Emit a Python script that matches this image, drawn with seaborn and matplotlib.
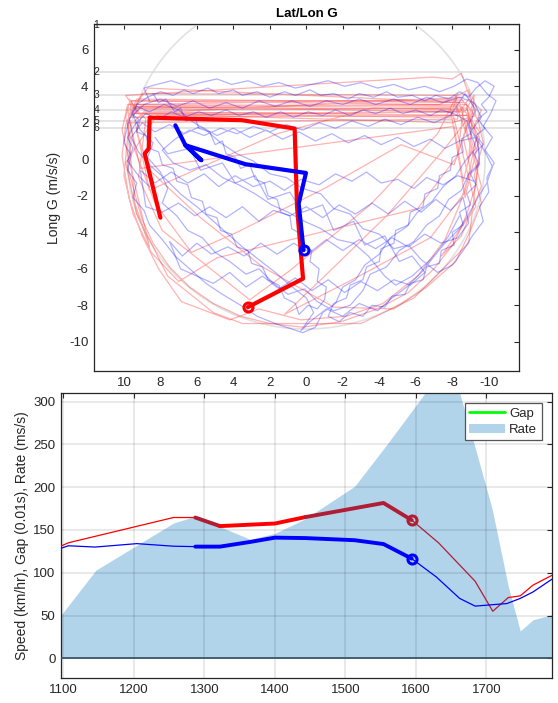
import matplotlib
matplotlib.use("Agg")
import matplotlib.pyplot as plt
import matplotlib.transforms as mtransforms
from matplotlib.patches import Ellipse, Patch
from matplotlib.lines import Line2D
import seaborn as sns

# ---------------- G-G diagram data (lateral G, longitudinal G) ----------------
ref_long = [7.35, 4.77, 3.52, 2.70, 2.12, 1.73]
ref_labels = ["1", "2", "3", "4", "5", "6"]

pink_lat = [9.7, 9.9, 9.6, 9.8, 9.4, 9.0, 8.4, 7.5, 6.4, 5.1, 3.6, 2.0, 0.2, -1.9, -3.9, -5.6, -7.0, -8.1, -8.8, -9.3,
            -9.5, -9.2, -9.6, -8.9, -8.4, 9.5, 9.9, -6.9, -8.0, -8.5, -9.1, -8.6, -9.0, -8.4, -7.6, -6.1, -4.2, -2.2, 0.3,
            2.6, 4.2, 6.85, 8.1, 9.0, 9.7, 10.1, 9.9, 9.3, -8.7, -9.4, -9.7, -9.2, -9.6, -9.0, -8.2, -6.6, -4.8, -1.5,
            2.4, 5.8, 8.6, 9.3, 9.0, -7.9, -8.3, -7.2, -3.5, 0.9, 3.1, 7.9, 9.2, 8.8, 9.6, -8.5, -9.1, -8.1, -5.2, -1.0,
            3.8, 6.3, 8.3, 9.4, 9.8, -8.8, -9.3, -8.7, -6.8, -2.9, 1.2, -0.8, -4.4, -7.6, -9.0, 8.9, 9.4, 8.6, 5.9, 1.6,
            -3.6, -8.6, -8.3, -6.1, -1.2, 4.9, 7.0, 8.5, 9.5, 10.0, 9.6, -7.3, -8.9, -9.3, -8.0, 9.2, 9.7, 9.5, -8.6]
pink_long = [3.1, 2.3, 1.0, -0.4, -1.9, -3.3, -4.6, -5.9, -7.0, -7.9, -8.6, -9.0, -9.2, -8.9, -8.2, -7.3, -6.0, -4.6, -3.0, -1.4,
             0.3, 1.8, 2.7, 3.3, 2.6, 2.9, 3.5, 4.5, 4.4, 4.7, 3.0, 1.2, -0.6, -2.5, -4.4, -6.4, -7.9, -8.6, -8.8,
             -8.2, -8.8, -7.8, -6.0, -4.2, -2.2, 0.2, 1.9, 3.3, 3.1, 2.2, 0.9, -0.9, -2.4, -3.9, -5.6, -7.0, -8.2, -8.1,
             -5.9, -3.2, -0.6, 1.5, 2.5, 2.3, 3.6, 1.4, -2.5, -6.1, -7.7, -3.9, -1.0, 2.2, 3.0, 3.3, 2.6, -0.3, 0.8, -1.6,
             -4.0, -5.1, -2.4, 0.5, 2.8, 2.8, 1.1, -1.8, -4.3, -6.4, -8.5, -6.6, -3.1, 0.6, 2.4, 2.6, 2.1, -1.7, -0.5, 1.4,
             2.8, 2.7, 0.2, -2.7, -3.9, -5.4, -6.7, -5.1, -3.0, -0.9, 3.2, 3.0, 3.8, 2.4, 2.0, 2.5, 3.3, 2.5, 3.4]

pink2_lat = [-8.6, 9.6, 9.3, -8.7, -9.2, -8.9, -9.5, -8.5, 9.8, 10.1, 8.6, 9.4, 9.8, -8.3, -8.2, 9.0, 9.7, 9.1, -8.1,
             -8.6, -9.1, -8.8, 9.5, 8.7, -4.3, -8.4, -9.6, -8.5, -7.4, -9.3, -8.0, 8.2, 9.9, 9.3, 7.6, 5.1, 3.5, -3.0,
             -5.9, -8.9, -9.4, -8.2, 9.1, 9.6, -8.8, -9.5, -8.7, -7.9, 8.9]
pink2_long = [3.2, 3.2, 2.5, 2.6, 3.5, 0.0, 1.5, 2.9, 3.0, 1.6, -4.8, -2.4, 2.0, 2.2, 3.5, 3.6, 2.2, -0.5, 1.8,
              -1.2, 0.8, 3.0, 2.8, 3.9, 3.3, 3.1, -1.5, -4.2, -5.3, -2.6, 2.6, 2.4, -0.2, -3.0, -6.4, -8.4, -9.0, -9.0,
              -7.6, -4.6, -0.3, 3.0, 2.9, 2.3, 2.4, 1.2, -2.1, 2.8, 2.7]

blue_lat = [8.6, 8.9, 8.2, 7.4, 6.5, 5.8, 4.9, 4.1, 3.2, 2.4, 1.5, 0.6, -0.3, -1.2, -2.1, -3.0, -3.9, -4.8, -5.6, -6.5,
            -7.3, -8.1, -8.8, -9.4, -9.9, -10.4, -10.1, -9.7, -10.2, -9.8, -10.3, -9.9, -10.0, -9.5, -9.7, -9.1, -8.6, -8.0,
            -7.2, -6.3, -5.6, -4.8, -4.0, -3.1, -2.4, -1.5, -0.8, 0.2, 1.1, 2.0, 2.9, 3.8, 4.7, 5.5, 6.3, 7.0, 7.8, 8.6, 9.3,
            9.7, 9.9, 10.0, 9.6, 9.8, 9.3, 9.5, 8.9, 8.6, 7.9, 7.2, 6.4, 5.5, 4.6, 3.6, 2.7, 1.7, 0.8, 0.2, -0.5,
            -0.9, -1.6, -2.0, -2.7, -3.2, -4.0, -4.6, -5.5, -6.1, -6.9, -7.5, -8.2, -8.7, -9.3, -9.0, -9.6, -9.2, -8.4,
            -7.5, -6.6, -5.7, -4.8, -3.8, -2.9, -2.0, -1.1, -0.2, 0.8, 1.7, 2.6, 3.5, 4.4, 5.3, 6.2, 7.1, 8.0, 8.9, 9.5,
            9.1, 8.4, 8.7, 8.0, 7.6, 7.9, 7.1, 6.5, 5.7, 5.0, 4.2, 3.3, 2.6, 1.8, 1.0, 0.1, -0.6, -1.5, -2.4,
            -3.1, -3.5, -4.4, -5.1, -5.9, -6.6, -7.3, -7.8, -8.5, -8.9, -9.5, -9.4, -8.9, -9.3, -8.7,
            -7.9, -7.0, -6.1, -5.2, -4.3, -3.4, -2.5, -1.6, -0.7, 0.2, 1.1, 2.0, 2.9, 3.8, 4.7, 5.6, 6.4, 7.2, 7.9,
            7.3, 6.4, 5.5, 4.6, 3.7, 2.8, 1.9, 1.0, 0.1, -0.8, -1.7, -2.6, -3.4, -4.3, -4.9, -5.8, -6.8, -7.6, -8.3,
            -8.8, -9.4, -9.9, -10.2, -9.8, -9.3, -8.4, -7.6, -6.8, -5.9, -5.0, -4.1, -3.2, -2.3, -1.4, -0.5, 0.4,
            1.3, 2.2, 3.1, 4.0, 4.9, 5.8, 6.7, 7.5, 8.3, 9.0, 9.6, 9.2, 8.5, 7.7, 6.9, 6.0, 5.2, 4.3, 3.5, 2.6, 1.7,
            0.9, 0.0, -0.4, 0.3, -0.2, -1.1, -2.0, -2.9, -3.9, -4.7, -5.5, -6.4, -7.1, -7.8, -8.4]
blue_long = [3.2, 3.9, 4.1, 4.3, 4.0, 4.2, 4.4, 4.1, 4.3, 4.0, 4.2, 3.9, 4.1, 4.3, 4.0, 4.2, 3.9, 4.1, 3.8, 4.0,
             3.7, 4.0, 4.4, 4.2, 3.6, 3.2, 2.5, 1.8, 1.2, 0.5, -0.2, -1.0, -1.8, -2.6, -3.4, -4.2, -5.0, -5.8,
             -6.2, -5.5, -4.7, -4.9, -4.1, -3.8, -3.0, -2.7, -1.9, -1.6, -1.0, -0.8, -0.1, 0.3, 0.9, 1.6, 2.1, 2.7, 3.0, 2.6, 2.9,
             2.2, 1.4, 0.9, 0.2, -0.6, -1.3, -2.1, -2.8, -3.6, -4.4, -5.3, -6.0, -6.8, -7.4, -8.0, -8.6, -9.0, -9.3, -9.5, -9.2,
             -8.4, -7.9, -7.0, -6.6, -5.8, -5.2, -4.3, -3.7, -2.9, -2.3, -1.5, -0.9, -0.1, 0.6, 1.5, 2.3, 3.1, 3.4,
             3.1, 3.4, 3.0, 3.3, 3.0, 3.3, 3.0, 3.2, 2.9, 3.2, 2.9, 3.2, 2.8, 3.1, 2.8, 3.2, 2.9, 3.3, 3.0, 2.4,
             1.6, 0.9, 0.1, -0.7, -1.6, -2.4, -3.1, -3.9, -4.3, -5.1, -5.6, -6.3, -6.0, -6.8, -7.4, -7.1, -7.8, -8.3, -8.0,
             -7.2, -6.3, -5.9, -5.0, -4.5, -3.6, -3.1, -2.2, -1.7, -0.8, -0.2, 0.9, 1.9, 2.7, 3.6,
             2.4, 2.0, 2.3, 1.9, 2.2, 1.8, 2.1, 1.7, 2.0, 1.6, 1.9, 1.5, 1.8, 1.4, 1.7, 1.3, 1.6, 1.1, 0.5,
             -0.2, -0.6, -0.3, -1.0, -1.4, -1.9, -2.5, -2.9, -3.4, -3.8, -4.4, -4.6, -5.3, -6.4, -6.9, -6.4, -5.5, -4.6, -3.9,
             -3.2, -2.1, -1.3, -0.4, 0.4, 1.2, 1.0, 0.6, 1.1, 0.7, 1.2, 0.8, 1.3, 0.9, 1.4, 1.0, 1.5,
             1.1, 1.6, 1.2, 1.7, 1.3, 1.8, 1.4, 1.9, 1.5, 2.0, 1.2, 0.4, -0.4, -1.1, -1.9, -2.6, -3.3, -4.1, -4.8, -5.5, -6.2,
             -6.9, -7.6, -8.4, -9.4, -8.9, -8.2, -8.6, -7.9, -8.3, -7.6, -7.0, -6.1, -5.2, -4.2, -3.1]

blue2_lat = [8.4, 8.1, 7.7, 7.2, 6.9, 6.6, 6.1, 5.9, 5.3, 5.0, 4.6, 4.4, 3.9, 3.6, 3.1, 2.8, 2.3, 2.1, 1.6, 1.4, 0.9,
             0.8, 0.3, 0.2, -0.3, -0.2, -0.7, -0.6, -1.1, -1.0, -0.6, -0.1, 0.4, 0.6,
             1.2, 1.5, 2.1, 2.4, 3.0, 3.2, 3.8, 4.1, 4.7, 4.9, 5.5, 5.7, 6.3, 6.5, 7.1, 7.3, 7.9, 8.1, 8.6, 8.8, 9.3, 9.2,
             9.6, 9.3,
             8.7, 8.0, 7.3, 6.7, 6.2, 5.4, 4.8, 4.0, 3.5, 2.7, 2.0, 1.2, 0.6, -0.2, -0.8, -1.5, -2.3, -2.9, -3.7, -4.4,
             -5.0, -5.8, -6.5, -7.1, -7.8, -8.4, -8.9, -9.3, -9.8, -10.3, -10.0,
             -9.6, -9.9, -9.4, -9.8, -9.3, -9.7, -9.2, -9.5, -9.0, -9.3, -8.8, -9.0, -8.4, -8.6, -8.0, -8.1, -7.4, -7.3,
             -6.6, -6.4, -5.7, -5.4, -4.7, -4.3, -3.6, -3.1, -2.4, -1.8, -1.2,
             -1.5, -2.2, -2.4, -3.1, -3.3, -4.0, -4.1, -4.8, -4.9, -5.6, -5.7, -6.4, -6.5, -7.2, -7.3, -7.9, -8.0, -8.6,
             -8.5, -9.0, -8.8, -8.1,
             -7.4, -6.8, -6.0, -5.3, -4.6, -3.8, -3.1, -2.4, -1.6, -0.9, -0.1, 0.7, 1.4, 2.2, 2.9, 3.7, 4.4, 5.2, 5.9,
             6.7, 7.4, 8.1, 8.8, 9.4, 9.8, 9.5, 9.8, 9.2, 8.6]
blue2_long = [3.6, 3.1, 3.3, 2.6, 2.8, 2.1, 2.3, 1.7, 1.5, 0.8, 1.0, 0.3, 0.1, -0.5, -0.3, -1.1, -1.3, -2.0, -2.2, -2.9,
              -3.1, -3.8, -4.1, -4.7, -5.0, -5.6, -6.0, -6.7, -7.0, -7.7, -8.2, -8.0, -8.5, -7.9,
              -7.6, -6.9, -6.6, -5.9, -5.7, -5.0, -4.8, -4.1, -3.9, -3.2, -3.0, -2.3, -2.1, -1.4, -1.2, -0.5, -0.3, 0.4,
              0.6, 1.3, 1.5, 2.2, 2.5, 3.0,
              3.4, 3.7, 3.5, 3.8, 3.6, 3.9, 3.6, 3.8, 3.5, 3.7, 3.4, 3.7, 3.5, 3.8, 3.5, 3.6, 3.3, 3.6, 3.4, 3.7,
              3.4, 3.5, 3.2, 3.5, 3.3, 3.7, 3.4, 3.9, 4.3, 4.0, 3.4,
              3.0, 2.6, 2.2, 1.7, 1.3, 0.8, 0.3, -0.3, -0.8, -1.4, -1.9, -2.5, -2.9, -3.6, -4.0, -4.7, -5.0, -5.7,
              -5.9, -6.6, -6.8, -7.4, -7.5, -8.1, -8.0, -8.6, -8.4, -8.9, -8.6,
              -7.9, -7.6, -6.9, -6.6, -5.9, -5.6, -4.9, -4.6, -3.9, -3.6, -2.9, -2.6, -1.9, -1.6, -0.9, -0.6, 0.1, 0.4,
              1.1, 1.4, 2.1, 2.5,
              2.7, 2.4, 2.7, 2.5, 2.8, 2.5, 2.7, 2.4, 2.7, 2.4, 2.6, 2.3, 2.6, 2.3, 2.6, 2.4, 2.7, 2.4, 2.6,
              2.3, 2.6, 2.2, 2.5, 1.9, 1.2, 0.6, -0.1, -0.9, -1.5]

blue3_lat = [-9.2, -8.3, -7.5, -6.6, -5.9, -5.0, -4.1, -3.3, -2.5, -1.6, -0.7, 0.3, 1.2, 2.0, 2.9, 3.9, 4.8, 5.6, 6.5,
             7.4, 8.3, 9.1, 8.8,
             7.9, 7.0, 6.1, 5.3, 4.4, 3.5, 2.6, 1.8, 0.9, 0.0, -0.9, -1.8, -2.7, -3.6, -4.5, -5.4, -6.3, -7.1, -7.9, -8.6,
             -8.9, -8.3,
             -7.4, -6.5, -5.6, -4.7, -3.8, -2.9, -2.0, -1.1, -0.2, 0.7, 1.6, 2.5, 3.4, 4.3, 5.2, 6.0, 6.8, 7.5,
             6.9, 6.0,
             5.1, 4.2, 3.3, 2.4, 1.5, 0.6, -0.3, -1.2, -2.1, -3.0, -3.9, -4.8, -5.7, -6.5,
             -5.8, -5.1, -4.3, -3.2, -2.6, -1.5, -0.9, 0.2, 0.9, 2.1, 2.8, 3.9, 4.6, 5.8, 6.4, 7.6, 8.3]
blue3_long = [-1.2, -0.9, -1.4, -1.0, -1.6, -1.1, -1.3, -0.7, -1.2, -0.8, -1.4, -1.1, -1.7, -1.2, -1.5, -0.9, -1.5,
              -0.8, -1.3, -0.7, -1.3, -0.6, -2.6,
              -2.9, -2.4, -3.1, -2.6, -3.2, -2.6, -3.4, -2.8, -3.1, -2.6, -3.2, -2.5, -3.0, -2.4, -3.0, -2.3, -2.9, -2.2,
              -2.8, -2.1, -3.5, -4.3,
              -4.6, -4.1, -4.8, -4.3, -4.9, -4.4, -5.0, -4.4, -5.1, -4.6, -5.2, -4.6, -5.3, -4.8, -5.2, -4.6, -5.3, -4.5,
              -6.0, -6.4,
              -6.8, -6.2, -7.0, -6.4, -7.1, -6.5, -7.2, -6.6, -7.3, -6.7, -7.2, -6.6, -6.9, -6.2,
              -5.3, -5.6, -4.2, -4.7, -3.4, -3.9, -2.5, -2.9, -1.8, -2.2, -0.9, -1.3, -0.2, -0.6, 0.6, 0.3, 1.2]

# current-window G paths (last point is the current sample)
red_now_lat = [8.0, 8.86, 8.64, 8.59, 3.53, 0.64, 0.51, 0.18, 3.2]
red_now_long = [-3.2, 0.31, 0.59, 2.28, 2.14, 1.68, -2.6, -6.54, -8.1]
blue_now_lat = [7.18, 6.63, 5.76, 6.63, 3.34, 0.02, 0.42, 0.15]
blue_now_long = [1.86, 0.77, -0.05, 0.77, -0.27, -0.75, -2.43, -4.98]

# ---------------- Distance-based traces ----------------
rate_dist = [1096, 1146, 1256, 1287, 1365, 1400, 1443, 1513, 1558, 1613, 1645, 1662, 1683, 1708, 1731, 1748, 1766, 1793]
rate_val = [50, 103, 158, 166, 139, 146, 163, 201, 249, 310, 345, 310, 249, 175, 84, 32, 45, 51]

red_dist = [1096, 1107, 1256, 1287, 1322, 1400, 1443, 1554, 1594, 1632, 1684, 1709, 1731, 1748, 1766, 1793]
red_speed = [131, 135, 164.5, 164.5, 154.5, 157.5, 165, 181.5, 161.5, 135, 90, 55, 71, 73, 85.5, 97]
blue_dist = [1096, 1107, 1145, 1204, 1256, 1287, 1322, 1365, 1400, 1443, 1513, 1554, 1594, 1629, 1662, 1684, 1729,
             1748, 1766, 1793]
blue_speed = [128.5, 131.5, 130, 134, 131, 130.5, 130.5, 136, 141, 140.5, 138, 133.5, 116.5, 95, 70, 61, 64, 70,
              77.5, 92.5]

RED = "#ff0000"
CRIMSON = "#b01e36"
BLUE = "#0000ff"
AXC = "#262626"

sns.set_theme(style="white")
plt.rcParams["font.family"] = ["Liberation Sans", "DejaVu Sans"]
plt.rcParams["axes.unicode_minus"] = False

fig = plt.figure(figsize=(5.58, 7.03), dpi=100)
W, H = 558.0, 703.0
ax1 = fig.add_axes([94 / W, 1 - 371 / H, 425 / W, 347 / H])
ax2 = fig.add_axes([61 / W, 1 - 678 / H, 491 / W, 285 / H])


def style_axes(ax):
    for sp in ax.spines.values():
        sp.set_color(AXC)
        sp.set_linewidth(0.9)
        sp.set_visible(True)
    ax.tick_params(direction="in", top=True, right=True, length=3.5, width=0.8,
                   colors=AXC, labelsize=9.5, pad=4)


def line(ax, xs, ys, color, lw, alpha=1.0, z=3):
    sns.lineplot(x=xs, y=ys, sort=False, estimator=None, color=color, lw=lw,
                 alpha=alpha, ax=ax, zorder=z)


# ---------------- Lat/Lon G ----------------
ax1.add_patch(Ellipse((0, 0), 19.6, 18.6, fill=False, ec="#e2e2e2", lw=1.2, zorder=1))
trans = mtransforms.blended_transform_factory(ax1.transAxes, ax1.transData)
for yv, lab in zip(ref_long, ref_labels):
    ax1.axhline(yv, color="#dcdcdc", lw=1.1, zorder=1)
    ax1.text(0.006, yv, lab, transform=trans, ha="center", va="center", fontsize=7.5, color=AXC, zorder=6)

line(ax1, pink_lat, pink_long, "red", 0.9, alpha=0.3, z=2)
line(ax1, pink2_lat, pink2_long, "red", 0.9, alpha=0.3, z=2)
line(ax1, blue_lat, blue_long, "blue", 0.9, alpha=0.3, z=2)
line(ax1, blue2_lat, blue2_long, "blue", 0.9, alpha=0.3, z=2)
line(ax1, blue3_lat, blue3_long, "blue", 0.9, alpha=0.3, z=2)
line(ax1, red_now_lat, red_now_long, RED, 3.0, z=4)
line(ax1, blue_now_lat, blue_now_long, BLUE, 3.0, z=4)
ax1.plot(red_now_lat[-1], red_now_long[-1], "o", mfc="none", mec=RED, mew=2.2, ms=6.5, zorder=5)
ax1.plot(blue_now_lat[-1], blue_now_long[-1], "o", mfc="none", mec=BLUE, mew=2.2, ms=6.5, zorder=5)

ax1.set_xlim(11.64, -11.66)
ax1.set_ylim(-11.6, 7.41)
ax1.set_xticks(list(range(10, -11, -2)))
ax1.set_yticks(list(range(-10, 7, 2)))
style_axes(ax1)
ax1.set_xlabel("")
ax1.set_ylabel("Long G (m/s/s)", fontsize=10, color=AXC, labelpad=6)
ax1.set_title("Lat/Lon G", fontsize=9.5, fontweight="bold", color="black", pad=5)

# ---------------- Speed / Gap / Rate vs distance ----------------
ax2.fill_between(rate_dist, rate_val, 0, color="#0072BD", alpha=0.3, lw=0, zorder=1)
ax2.axhline(0, color="#3d566a", lw=1.3, zorder=2.6)

# thin traces
line(ax2, red_dist[0:4], red_speed[0:4], RED, 0.9)
line(ax2, red_dist[8:13], red_speed[8:13], CRIMSON, 0.9)
line(ax2, red_dist[12:], red_speed[12:], RED, 0.9)
line(ax2, blue_dist[0:6], blue_speed[0:6], BLUE, 0.9)
line(ax2, blue_dist[12:], blue_speed[12:], BLUE, 0.9)
# current window (thick)
line(ax2, red_dist[3:5], red_speed[3:5], CRIMSON, 2.8, z=4)
line(ax2, red_dist[4:7], red_speed[4:7], RED, 2.8, z=4)
line(ax2, red_dist[6:9], red_speed[6:9], CRIMSON, 2.8, z=4)
line(ax2, blue_dist[5:13], blue_speed[5:13], BLUE, 2.8, z=4)
ax2.plot(red_dist[8], red_speed[8], "o", mfc="none", mec=CRIMSON, mew=2.2, ms=6.5, zorder=5)
ax2.plot(blue_dist[12], blue_speed[12], "o", mfc="none", mec=BLUE, mew=2.2, ms=6.5, zorder=5)

ax2.set_xlim(1096.5, 1793)
ax2.set_ylim(-23, 310)
ax2.set_xticks(list(range(1100, 1701, 100)))
ax2.set_yticks(list(range(0, 301, 50)))
ax2.set_axisbelow(False)
ax2.grid(True, color="black", alpha=0.1, lw=1.2)
style_axes(ax2)
ax2.set_xlabel("")
ax2.set_ylabel("Speed (km/hr), Gap (0.01s), Rate (ms/s)", fontsize=10, color=AXC, labelpad=3)

handles = [Line2D([0], [0], color="#00ff00", lw=2.0),
           Patch(facecolor="#0072BD", alpha=0.3, edgecolor="none")]
leg = ax2.legend(handles, ["Gap", "Rate"], loc="upper right", bbox_to_anchor=(0.979, 0.966),
                 fontsize=9.5, frameon=True, fancybox=False, framealpha=1, edgecolor="#555555",
                 handlelength=2.7, handletextpad=0.3, borderpad=0.35, labelspacing=0.3, borderaxespad=0)
leg.get_frame().set_linewidth(0.9)
leg.set_zorder(10)

fig.savefig("out.png", dpi=100)
